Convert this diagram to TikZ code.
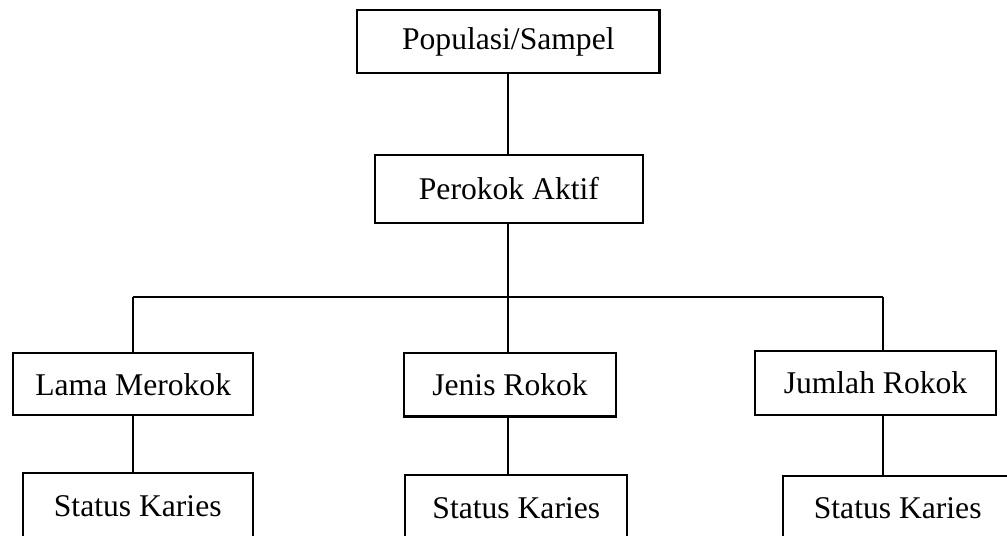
\documentclass[tikz,border=0pt]{standalone}
\usepackage{fontspec}
\setmainfont{Liberation Serif}

\begin{document}
\begin{tikzpicture}[every node/.style={font=\fontsize{15.8}{19}\selectfont},
    box/.style={draw, line width=1.1pt, inner sep=0pt},
    link/.style={line width=0.85pt}]
    \useasboundingbox (0,0) rectangle (17.69,-9.40);

    % top of the tree
    \node[box, minimum width=5.31cm, minimum height=1.11cm] (pop) at (8.93,-0.73) {Populasi/Sampel};
    \node[box, minimum width=4.71cm, minimum height=1.19cm] (aktif) at (8.94,-3.32) {Perokok Aktif};

    % branch points on the cross line
    \coordinate (b1) at (2.34,-5.22);
    \coordinate (b2) at (8.93,-5.22);
    \coordinate (b3) at (15.51,-5.22);

    % middle row
    \node[box, minimum width=4.22cm, minimum height=1.09cm] (lama) at (2.34,-6.75) {Lama Merokok};
    \node[box, minimum width=3.72cm, minimum height=1.11cm] (jenis) at (8.96,-6.76) {Jenis Rokok};
    \node[box, minimum width=4.23cm, minimum height=1.12cm] (jumlah) at (15.38,-6.73) {Jumlah Rokok};

    % bottom row (cut off by the page)
    \node[box, minimum width=4.04cm, minimum height=1.18cm] (stat1) at (2.42,-8.90) {Status Karies};
    \node[box, minimum width=3.90cm, minimum height=1.14cm] (stat2) at (9.07,-8.92) {Status Karies};
    \node[box, minimum width=4.02cm, minimum height=1.13cm] (stat3) at (15.77,-8.93) {Status Karies};

    % connectors
    \draw[link] (pop.south) -- (pop.south |- aktif.north);
    \draw[link] (b2 |- aktif.south) -- (b2);
    \draw[link] (b1) -- (b3);
    \draw[link] (b1) -- (b1 |- lama.north);
    \draw[link] (b2) -- (b2 |- jenis.north);
    \draw[link] (b3) -- (b3 |- jumlah.north);
    \draw[link] (b1 |- lama.south) -- (b1 |- stat1.north);
    \draw[link] (b2 |- jenis.south) -- (b2 |- stat2.north);
    \draw[link] (b3 |- jumlah.south) -- (b3 |- stat3.north);
\end{tikzpicture}
\end{document}
